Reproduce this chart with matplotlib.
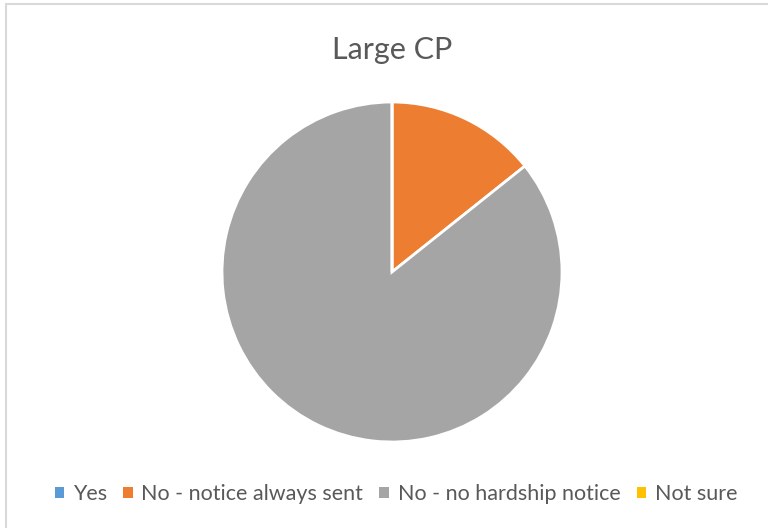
import matplotlib.pyplot as plt
from matplotlib.patches import Rectangle, Patch

# Responses for large CPs
labels = ["Yes", "No - notice always sent", "No - no hardship notice", "Not sure"]
counts = [0, 1, 6, 0]
colors = ["#5B9BD5", "#ED7D31", "#A5A5A5", "#FFC000"]

W, H = 768, 528
fig = plt.figure(figsize=(W / 100, H / 100), dpi=100)
plt.rcParams['font.family'] = ['Lato', 'DejaVu Sans']

# light chart border
fig.patches.append(Rectangle((6 / W, -0.05), 1.1, 1 - 4 / H + 0.05, transform=fig.transFigure,
                             fill=False, edgecolor="#D9D9D9", linewidth=1.5))

cx, cy, r = 392, 272, 170
ax = fig.add_axes([(cx - r) / W, (H - cy - r) / H, 2 * r / W, 2 * r / H])
ax.pie(counts, colors=colors, startangle=90, counterclock=False, radius=1,
       wedgeprops=dict(edgecolor="white", linewidth=2))
ax.set_xlim(-1, 1)
ax.set_ylim(-1, 1)
ax.set_aspect("equal")

fig.text(cx / W, 1 - 50 / H, "Large CP", ha="center", va="center", fontsize=22, color="#595959")

handles = [Patch(facecolor=c, edgecolor="none") for c in colors]
fig.legend(handles, labels, loc="center", bbox_to_anchor=(396 / W, 1 - 494 / H), ncol=4,
           frameon=False, fontsize=15.5, labelcolor="#595959", handlelength=0.45, handleheight=0.45,
           handletextpad=0.4, columnspacing=0.75)

fig.savefig("out.png", dpi=100)
